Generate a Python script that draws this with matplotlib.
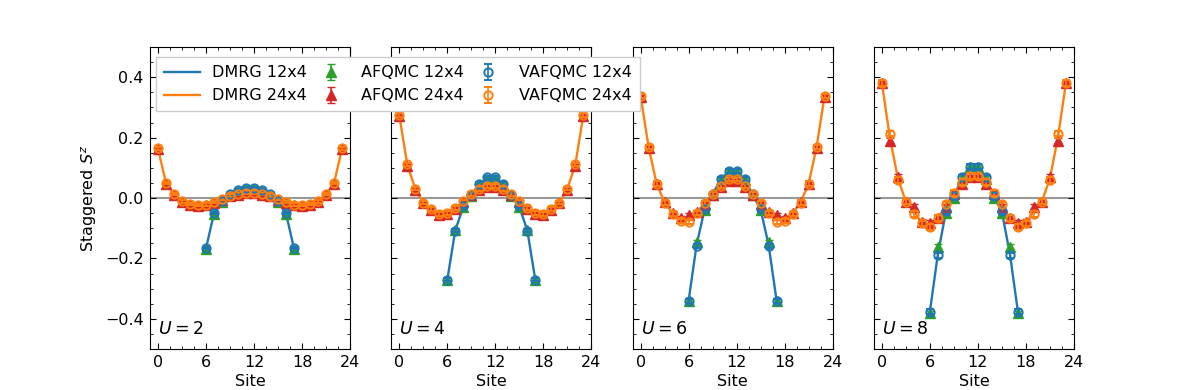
import matplotlib
matplotlib.use("Agg")
import matplotlib.pyplot as plt
import numpy as np
from matplotlib.ticker import AutoMinorLocator

U_values = [2, 4, 6, 8]
sites24 = list(range(24))
sites12 = list(range(6, 18))

# ---- U = 2 ----
dmrg24_U2 = [0.163, 0.049, 0.012, -0.012, -0.021, -0.024, -0.022, -0.014, -0.004, 0.007, 0.012, 0.017,
             0.017, 0.012, 0.007, -0.004, -0.014, -0.022, -0.024, -0.021, -0.012, 0.012, 0.049, 0.163]
dmrg12_U2 = [-0.167, -0.051, -0.012, 0.011, 0.025, 0.032, 0.032, 0.025, 0.011, -0.012, -0.051, -0.167]
afqmc24_U2 = [0.161, 0.047, 0.011, -0.013, -0.022, -0.025, -0.023, -0.016, -0.006, 0.005, 0.010, 0.015,
              0.015, 0.010, 0.005, -0.006, -0.016, -0.023, -0.025, -0.022, -0.013, 0.011, 0.047, 0.161]
afqmc12_U2 = [-0.170, -0.053, -0.014, 0.009, 0.024, 0.031, 0.031, 0.024, 0.009, -0.014, -0.053, -0.170]
vafqmc24_U2 = [0.164, 0.050, 0.013, -0.011, -0.020, -0.024, -0.022, -0.013, -0.003, 0.008, 0.013, 0.018,
               0.018, 0.013, 0.008, -0.003, -0.013, -0.022, -0.024, -0.020, -0.011, 0.013, 0.050, 0.164]
vafqmc12_U2 = [-0.166, -0.050, -0.011, 0.012, 0.026, 0.033, 0.033, 0.026, 0.012, -0.011, -0.050, -0.166]
err_U2 = 0.004

# ---- U = 4 ----
dmrg24_U4 = [0.273, 0.110, 0.030, -0.016, -0.038, -0.053, -0.051, -0.034, -0.012, 0.012, 0.028, 0.038,
             0.038, 0.028, 0.012, -0.012, -0.034, -0.051, -0.053, -0.038, -0.016, 0.030, 0.110, 0.273]
dmrg12_U4 = [-0.271, -0.107, -0.029, 0.010, 0.046, 0.067, 0.067, 0.046, 0.010, -0.029, -0.107, -0.271]
afqmc24_U4 = [0.270, 0.107, 0.028, -0.018, -0.040, -0.055, -0.052, -0.036, -0.014, 0.010, 0.026, 0.035,
              0.035, 0.026, 0.010, -0.014, -0.036, -0.052, -0.055, -0.040, -0.018, 0.028, 0.107, 0.270]
afqmc12_U4 = [-0.272, -0.106, -0.031, 0.008, 0.044, 0.064, 0.064, 0.044, 0.008, -0.031, -0.106, -0.272]
vafqmc24_U4 = [0.274, 0.111, 0.031, -0.015, -0.037, -0.053, -0.050, -0.033, -0.011, 0.013, 0.029, 0.039,
               0.039, 0.029, 0.013, -0.011, -0.033, -0.050, -0.053, -0.037, -0.015, 0.031, 0.111, 0.274]
vafqmc12_U4 = [-0.270, -0.108, -0.028, 0.011, 0.048, 0.068, 0.068, 0.048, 0.011, -0.028, -0.108, -0.270]
err_U4 = 0.006

# ---- U = 6 ----
dmrg24_U6 = [0.338, 0.169, 0.047, -0.014, -0.051, -0.071, -0.073, -0.048, -0.018, 0.013, 0.038, 0.060,
             0.060, 0.038, 0.013, -0.018, -0.048, -0.073, -0.071, -0.051, -0.014, 0.047, 0.169, 0.338]
dmrg12_U6 = [-0.340, -0.155, -0.038, 0.013, 0.060, 0.088, 0.088, 0.060, 0.013, -0.038, -0.155, -0.340]
afqmc24_U6 = [0.335, 0.165, 0.045, -0.013, -0.049, -0.066, -0.056, -0.046, -0.020, 0.011, 0.035, 0.056,
              0.056, 0.035, 0.011, -0.020, -0.046, -0.056, -0.066, -0.049, -0.013, 0.045, 0.165, 0.335]
afqmc12_U6 = [-0.342, -0.146, -0.040, 0.011, 0.058, 0.085, 0.085, 0.058, 0.011, -0.040, -0.146, -0.342]
vafqmc24_U6 = [0.338, 0.170, 0.048, -0.015, -0.053, -0.075, -0.080, -0.049, -0.017, 0.014, 0.040, 0.062,
               0.062, 0.040, 0.014, -0.017, -0.049, -0.080, -0.075, -0.053, -0.015, 0.048, 0.170, 0.338]
vafqmc12_U6 = [-0.340, -0.160, -0.036, 0.014, 0.062, 0.090, 0.090, 0.062, 0.014, -0.036, -0.160, -0.340]
err_U6 = 0.007

# ---- U = 8 ----
dmrg24_U8 = [0.380, 0.200, 0.065, -0.012, -0.045, -0.082, -0.090, -0.066, -0.025, 0.016, 0.049, 0.071,
             0.071, 0.049, 0.016, -0.025, -0.066, -0.090, -0.082, -0.045, -0.012, 0.065, 0.200, 0.380]
dmrg12_U8 = [-0.376, -0.185, -0.046, 0.004, 0.066, 0.104, 0.104, 0.066, 0.004, -0.046, -0.185, -0.376]
afqmc24_U8 = [0.380, 0.190, 0.071, -0.012, -0.029, -0.080, -0.083, -0.066, -0.030, 0.014, 0.045, 0.068,
              0.068, 0.045, 0.014, -0.030, -0.066, -0.083, -0.080, -0.029, -0.012, 0.071, 0.190, 0.380]
afqmc12_U8 = [-0.382, -0.162, -0.050, 0.000, 0.064, 0.104, 0.104, 0.064, 0.000, -0.050, -0.162, -0.382]
vafqmc24_U8 = [0.381, 0.213, 0.060, -0.012, -0.053, -0.084, -0.096, -0.066, -0.021, 0.017, 0.052, 0.073,
               0.073, 0.052, 0.017, -0.021, -0.066, -0.096, -0.084, -0.053, -0.012, 0.060, 0.213, 0.381]
vafqmc12_U8 = [-0.376, -0.190, -0.044, 0.006, 0.068, 0.104, 0.104, 0.068, 0.006, -0.044, -0.190, -0.376]
err_U8 = 0.009

panels = [
    (dmrg12_U2, dmrg24_U2, afqmc12_U2, afqmc24_U2, vafqmc12_U2, vafqmc24_U2, err_U2),
    (dmrg12_U4, dmrg24_U4, afqmc12_U4, afqmc24_U4, vafqmc12_U4, vafqmc24_U4, err_U4),
    (dmrg12_U6, dmrg24_U6, afqmc12_U6, afqmc24_U6, vafqmc12_U6, vafqmc24_U6, err_U6),
    (dmrg12_U8, dmrg24_U8, afqmc12_U8, afqmc24_U8, vafqmc12_U8, vafqmc24_U8, err_U8),
]

C_BLUE, C_ORANGE, C_GREEN, C_RED = "tab:blue", "tab:orange", "tab:green", "tab:red"
FS = 11.5

fig = plt.figure(figsize=(11.96, 3.90), dpi=100)
left, bottom, w, h = 150 / 1196, 1 - 349 / 390, 200 / 1196, 302 / 390
gap = 241.3 / 1196
axes = [fig.add_axes([left + i * gap, bottom, w, h]) for i in range(4)]

for i, (ax, U, data) in enumerate(zip(axes, U_values, panels)):
    d12, d24, a12, a24, v12, v24, err = data
    ax.axhline(0, color="gray", lw=1.5, alpha=0.8, zorder=1)
    l12, = ax.plot(sites12, d12, color=C_BLUE, lw=1.7, label="DMRG 12x4", zorder=2)
    l24, = ax.plot(sites24, d24, color=C_ORANGE, lw=1.7, label="DMRG 24x4", zorder=2)
    ea12 = ax.errorbar(sites12, a12, yerr=err, fmt="^", color=C_GREEN, ms=7.5, capsize=3,
                       elinewidth=1.2, label="AFQMC 12x4", zorder=3)
    ea24 = ax.errorbar(sites24, a24, yerr=err, fmt="^", color=C_RED, ms=7.5, capsize=3,
                       elinewidth=1.2, label="AFQMC 24x4", zorder=3)
    ev12 = ax.errorbar(sites12, v12, yerr=err, fmt="o", color=C_BLUE, mfc="none", ms=6, mew=1.4,
                       capsize=3, elinewidth=1.2, label="VAFQMC 12x4", zorder=4)
    ev24 = ax.errorbar(sites24, v24, yerr=err, fmt="o", color=C_ORANGE, mfc="none", ms=6, mew=1.4,
                       capsize=3, elinewidth=1.2, label="VAFQMC 24x4", zorder=4)
    ax.set_xlim(-1, 24)
    ax.set_ylim(-0.5, 0.5)
    ax.set_xticks([0, 6, 12, 18, 24])
    ax.set_yticks([-0.4, -0.2, 0.0, 0.2, 0.4])
    ax.xaxis.set_minor_locator(AutoMinorLocator())
    ax.yaxis.set_minor_locator(AutoMinorLocator())
    ax.tick_params(which="both", direction="in", top=True, right=True, labelsize=FS)
    ax.tick_params(which="major", length=4, pad=4.5)
    ax.tick_params(which="minor", length=2)
    ax.set_xlabel("Site", fontsize=FS, labelpad=3)
    ax.text(0.04, 0.035, f"$U={U}$", transform=ax.transAxes, fontsize=FS + 1, ha="left", va="bottom")
    if i == 0:
        ax.set_ylabel("Staggered $S^z$", fontsize=FS)
        handles = [l12, l24, ea12, ea24, ev12, ev24]
    else:
        ax.set_yticklabels([])

axes[0].set_zorder(10)
leg = axes[0].legend(handles=handles, ncol=3, loc="upper left", fontsize=FS,
                     bbox_to_anchor=(-0.02, 1.0), borderaxespad=0.65, borderpad=0.5,
                     columnspacing=0.4, handlelength=2.2, framealpha=1.0, fancybox=False)
leg.set_zorder(20)

fig.savefig("out.png", dpi=100)
